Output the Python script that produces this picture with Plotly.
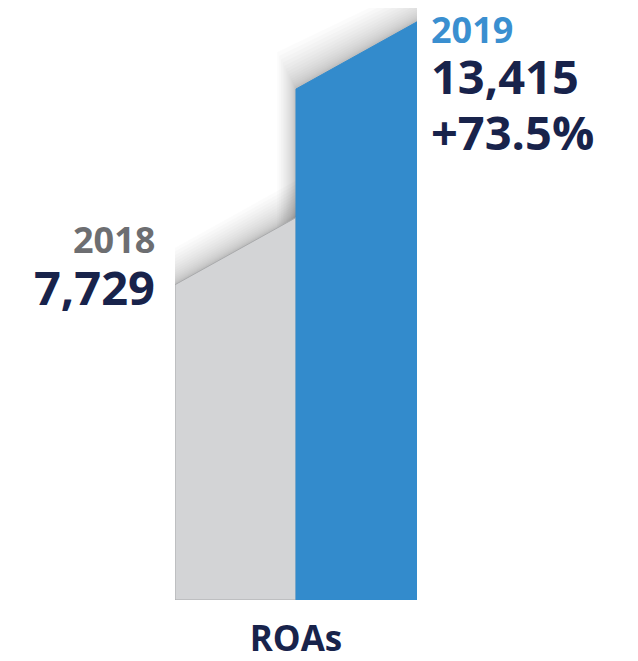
import plotly.graph_objects as go

# ---- data ----
years = ["2018", "2019"]
values = [7729, 13415]
change_label = "+73.5%"
category = "ROAs"

# ---- style ----
OFF = 8                      # page body margin offset of the browser
W, H = 638 - OFF, 661 - OFF
ML, MT, MB = 175 - OFF, 0, 54
PLOT_W = 242
MR = W - ML - PLOT_W
UPP = 28.717                 # data units per pixel (vertical)
Y_MIN = -2408                # bar base
plot_h = H - MT - MB
Y_MAX = Y_MIN + plot_h * UPP
SLANT = 976                  # half of the rise along each bar top, in data units
bar_colors = ["#d3d4d6", "#338bcc"]
year_colors = ["#6d6e71", "#3a8fd0"]
navy = "#18234b"
FONT = "Open Sans"
xunits_per_px = 2.0 / PLOT_W

fig = go.Figure()


def bar_poly(i, v, dy=0.0, dx_left=0.0):
    x0, x1 = i - 0.5 - dx_left, i + 0.5
    xs = [x0, x0, x1, x1, x0]
    ys = [Y_MIN, v - SLANT + dy, v + SLANT + dy, Y_MIN, Y_MIN]
    return xs, ys


# soft shadows above the slanted tops
N = 16
for i, v in enumerate(values):
    for k in range(N):
        d_px = 1.5 + 36 * ((k + 1) / N) ** 1.7
        dy = d_px * UPP
        dxl = (d_px * 0.5 * xunits_per_px) if i == 1 else 0.0
        xs, ys = bar_poly(i, v, dy, dxl)
        fig.add_trace(go.Scatter(
            x=xs, y=ys, mode="lines", fill="toself",
            fillcolor="rgba(0,0,0,0.017)", line=dict(width=0),
            hoverinfo="skip", showlegend=False))

# the bars
for i, v in enumerate(values):
    xs, ys = bar_poly(i, v)
    fig.add_trace(go.Scatter(
        x=xs, y=ys, mode="lines", fill="toself",
        fillcolor=bar_colors[i],
        line=dict(width=1, color="#a9aaac" if i == 0 else bar_colors[i]),
        hoverinfo="skip", showlegend=False))


def px_x(s):
    return (s - OFF - ML) / PLOT_W


def px_y(s):
    return (H - MB - (s - OFF)) / plot_h


def label(sx, sy, text, size, color, anchor):
    fig.add_annotation(x=px_x(sx), y=px_y(sy), xref="paper", yref="paper",
                       text=f"<b>{text}</b>", xanchor=anchor, yanchor="middle",
                       showarrow=False, borderpad=0,
                       font=dict(family=FONT, size=size, color=color))


fmt = [f"{v:,}" for v in values]
label(156, 242, years[0], 36, year_colors[0], "right")
label(156, 290, fmt[0], 47, navy, "right")
label(430, 30, years[1], 36, year_colors[1], "left")
label(430, 77, fmt[1], 47, navy, "left")
label(430, 133, change_label, 47, navy, "left")

fig.update_layout(
    width=W, height=H,
    margin=dict(l=ML, r=MR, t=MT, b=MB),
    paper_bgcolor="white", plot_bgcolor="white",
    xaxis=dict(range=[-0.5, 1.5], tickvals=[0.5], ticktext=[f"<b>{category}</b>"],
               tickfont=dict(family=FONT, size=35, color=navy),
               ticklabelstandoff=15,
               showgrid=False, zeroline=False, showline=False, ticks="",
               fixedrange=True),
    yaxis=dict(range=[Y_MIN, Y_MAX], visible=False, fixedrange=True),
    showlegend=False,
)

fig.write_html("out.html", config={"displayModeBar": False})
